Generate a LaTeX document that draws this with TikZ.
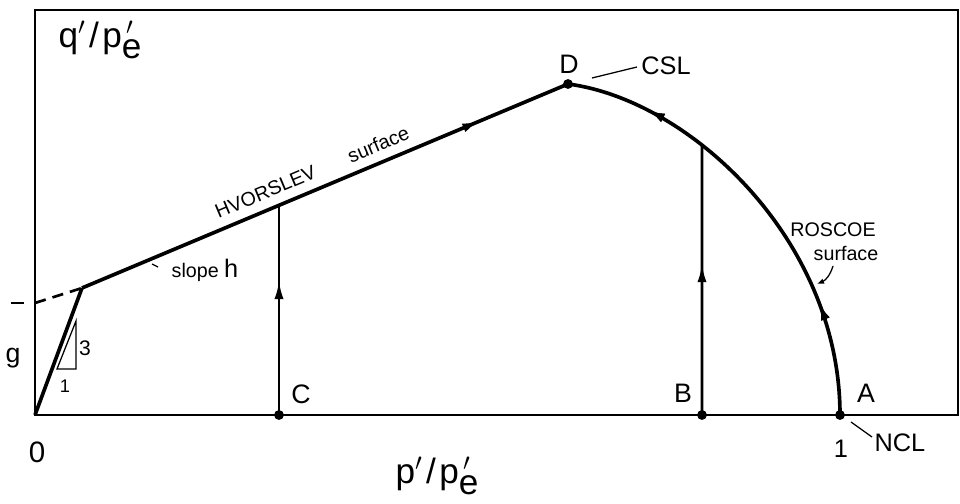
\documentclass[tikz,border=0pt]{standalone}
\usepackage{fontspec}
\setmainfont{Liberation Sans}
\usetikzlibrary{arrows.meta,calc,intersections,decorations.markings}

\newcommand{\pe}{p\rlap{\kern.12em$'$}\raisebox{-.6ex}{e}}

\begin{document}
\begin{tikzpicture}[
  x=0.025cm, y=-0.025cm,
  heavy/.style={line width=2.6pt},
  medium/.style={line width=1.9pt},
  fine/.style={line width=0.9pt},
  dot/.style={circle, fill, inner sep=0pt, minimum size=7pt},
  big/.style={font=\fontsize{25}{28}\selectfont, inner sep=0pt},
  letter/.style={font=\fontsize{19}{21}\selectfont, inner sep=0pt},
  tag/.style={font=\fontsize{14}{16}\selectfont, inner sep=0pt},
  tip/.style={postaction={decorate}, decoration={markings,
      mark=at position #1 with {\arrow{Latex[length=13pt,width=6.5pt]}}}}
]
\useasboundingbox (0,0) rectangle (960,504);

% key points
\coordinate (O) at (35,415);
\coordinate (K) at (82,288);
\coordinate (D) at (568,84);
\coordinate (C) at (279,415);
\coordinate (B) at (702,415);
\coordinate (A) at (840,415);
\coordinate (g0) at (35,303);

% frame
\draw[medium] (O) -- (35,10) -- (958,10) -- (958,415) -- cycle;

% elastic wall and Hvorslev surface
\draw[heavy] (O) -- (K);
\draw[medium, dashed, dash pattern=on 8pt off 5pt] (g0) -- (K);
\draw[heavy, name path=hvor, tip=0.82] (K) -- (D);
\draw[heavy, name path=roscoe, tip=0.25, tip=0.82]
  (A) .. controls (840,240) and (690,100) .. (D);

% stress paths
\path[name path=vC] (C) -- (279,0);
\path[name path=vB] (B) -- (702,0);
\path[name intersections={of=vC and hvor, by=Ctop}];
\path[name intersections={of=vB and roscoe, by=Btop}];
\draw[medium, tip=0.64] (C) -- (Ctop);
\draw[medium, tip=0.56] (B) -- (Btop);

\node[dot] (dC) at (C) {};
\node[dot] (dB) at (B) {};
\node[dot] (dA) at (A) {};
\node[dot] (dD) at (D) {};

% slope triangle
\coordinate (t1) at (57,369);
\coordinate (t2) at (76,321);
\coordinate (t3) at (76,369);
\draw[fine] (t1) -- (t2) -- (t3) -- cycle;
\node[font=\fontsize{15}{17}\selectfont, inner sep=0pt] (l3) at (85,348) {3};
\node[font=\fontsize{13}{15}\selectfont, inner sep=0pt] (l1t) at (65,386) {1};

% intercept g
\coordinate (gt1) at (11,303);
\coordinate (gt2) at (24,303);
\draw[medium] (gt1) -- (gt2);
\node[letter] (lg) at (13,358) {g};

% labels
\node[big] (ylab) at (100,40) {q$'$\kern.1em/\kern.1em\pe};
\node[big] (xlab) at (437,476) {p$'$\kern.1em/\kern.1em\pe};
\node[font=\fontsize{21}{23}\selectfont, inner sep=0pt] (lO) at (37,452) {0};
\node[font=\fontsize{18}{20}\selectfont, inner sep=0pt] (l1) at (841,449) {1};
\node[font=\fontsize{18}{20}\selectfont, inner sep=0pt] (lNCL) at (900,443) {NCL};
\node[letter] (lA) at (866,393) {A};
\node[letter] (lB) at (683,393) {B};
\node[letter] (lC) at (301,394) {C};
\node[letter] (lD) at (569,64) {D};
\node[font=\fontsize{18}{20}\selectfont, inner sep=0pt] (lCSL) at (666,66) {CSL};
\node[tag] (lslope) at (205,270) {slope \fontsize{18}{20}\selectfont h};
\node[tag, rotate=22.8] (lhvor) at (312,172) {HVORSLEV\hspace{26pt}surface};
\node[tag] (lroscoe) at (833,230) {ROSCOE};
\node[tag] (lsurf2) at (846,253) {surface};

% leaders
\coordinate (c1) at (592,78);
\coordinate (c2) at (637,67);
\draw[fine] (c1) -- (c2);
\coordinate (n1) at (851,422);
\coordinate (n2) at (872,437);
\draw[fine] (n1) -- (n2);
\coordinate (s1) at (152,264);
\coordinate (s2) at (158,267);
\draw[fine] (s1) -- (s2);
\coordinate (r1) at (833,266);
\coordinate (r2) at (817,284);
\draw[fine, -{Latex[length=5pt,width=4pt]}] (r1) to[bend left=25] (r2);
\end{tikzpicture}
\end{document}
